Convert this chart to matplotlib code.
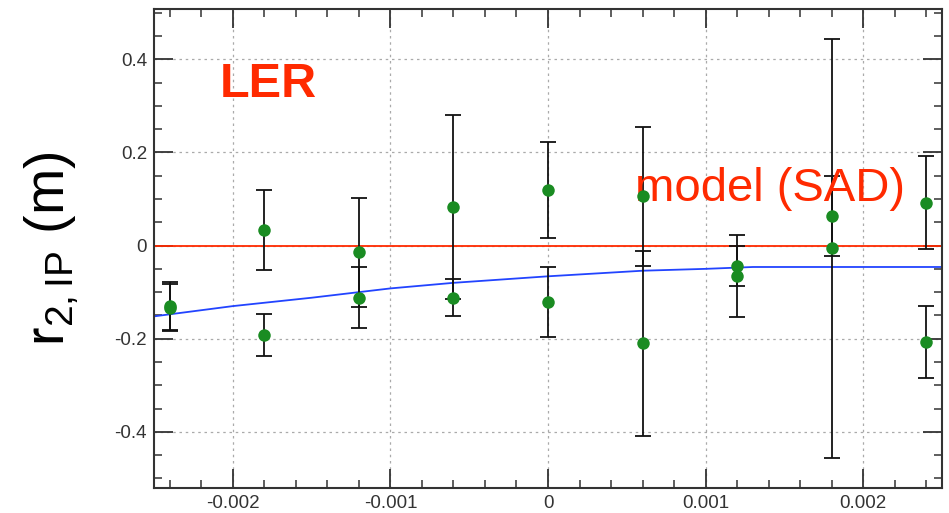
import matplotlib
matplotlib.use('Agg')
import matplotlib.pyplot as plt
import numpy as np

plt.rcParams['font.family'] = ['Liberation Sans', 'DejaVu Sans']

# measured points (two per x setting)
x_pts = [-0.0024, -0.0024, -0.0018, -0.0018, -0.0012, -0.0012, -0.0006, -0.0006,
         0.0, 0.0, 0.0006, 0.0006, 0.0012, 0.0012, 0.0018, 0.0018, 0.0024, 0.0024]
y_pts = [-0.130, -0.133, 0.034, -0.192, -0.014, -0.112, 0.083, -0.112,
         0.120, -0.121, 0.106, -0.210, -0.043, -0.066, 0.063, -0.006, 0.092, -0.207]
y_err = [0.052, 0.051, 0.086, 0.046, 0.117, 0.066, 0.197, 0.040,
         0.103, 0.075, 0.149, 0.198, 0.043, 0.088, 0.086, 0.450, 0.100, 0.077]

# model curve
x_mod = [-0.0025, -0.002, -0.0015, -0.001, -0.0006, 0.0, 0.0006, 0.001, 0.0013, 0.0025]
y_mod = [-0.152, -0.130, -0.112, -0.092, -0.080, -0.066, -0.054, -0.050, -0.046, -0.046]

red = '#ff2a00'
dark = '#333333'

fig = plt.figure(figsize=(9.49, 5.13), dpi=100)
ax = fig.add_axes([0.1623, 0.0493, 0.8303, 0.9322])

ax.axhline(0, color=red, lw=1.3, zorder=2)
ax.plot(x_mod, y_mod, color='#2244ff', lw=1.3, zorder=2)
ax.errorbar(x_pts, y_pts, yerr=y_err, fmt='none', ecolor='#111111', elinewidth=1.3,
            capsize=6, capthick=1.3, zorder=3)
ax.plot(x_pts, y_pts, 'o', color='#1a8c22', ms=9, mec='none', zorder=4)

ax.set_xlim(-0.0025, 0.0025)
ax.set_ylim(-0.52, 0.507)
ax.set_xticks([-0.002, -0.001, 0, 0.001, 0.002])
ax.set_xticklabels(['-0.002', '-0.001', '0', '0.001', '0.002'])
ax.set_yticks([-0.4, -0.2, 0, 0.2, 0.4])
ax.set_yticklabels(['-0.4', '-0.2', '0', '0.2', '0.4'])
ax.set_xticks(np.arange(-0.0024, 0.00241, 0.0002), minor=True)
ax.set_yticks(np.arange(-0.5, 0.501, 0.05), minor=True)

ax.grid(True, which='major', color='#aaaaaa', ls=(0, (2, 3)), lw=0.9)
ax.tick_params(which='major', direction='in', length=14, width=1.3, color=dark,
               top=True, right=True, labelsize=13.5, labelcolor=dark, pad=5)
ax.tick_params(which='minor', direction='in', length=6, width=1.1, color=dark,
               top=True, right=True)
for s in ax.spines.values():
    s.set_color(dark)
    s.set_linewidth(1.5)

ax.set_ylabel(r'r$_{\mathregular{2,IP}}$ (m)', fontsize=40, labelpad=24)

ax.text(-0.00208, 0.318, 'LER', color=red, fontsize=35, fontweight='bold')
ax.text(0.00055, 0.095, 'model (SAD)', color=red, fontsize=34)

fig.savefig('out.png', dpi=100)
